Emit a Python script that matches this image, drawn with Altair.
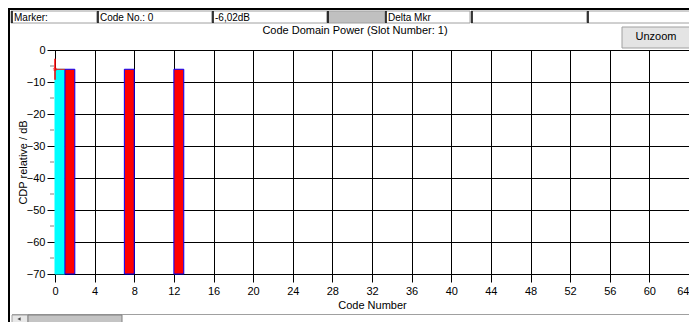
import altair as alt
import pandas as pd

# ---- data ----
codes = [0, 1, 7, 12]
cdp_db = [-6.02, -6.02, -6.02, -6.02]
states = ["marker", "active", "active", "active"]
floor_db = -70

marker_code = 0
marker_db = -6.02

x_ticks = list(range(0, 65, 4))
y_ticks = [0, -10, -20, -30, -40, -50, -60, -70]
y_minor = [-5, -15, -25, -35, -45, -55, -65]

header_labels = ["Marker:", "Code No.: 0", "-6,02dB", "", "Delta Mkr", "", ""]
header_left = [-44, 42, 157, 272, 330, 416, 532]
header_right = [42, 157, 272, 330, 415, 532, 642]
header_fill = ["white", "white", "white", "#c0c0c0", "white", "white", "white"]

title_text = "Code Domain Power (Slot Number:  1)"
x_title = "Code Number"
y_title = "CDP relative / dB"

FONT = "Liberation Sans, Arial, sans-serif"

bars = pd.DataFrame({"code": codes, "cdp": cdp_db, "state": states})
bars["floor"] = floor_db

W, H = 634, 224

x_scale = alt.Scale(domain=[0, 64], nice=False, zero=False)
y_scale = alt.Scale(domain=[-70, 0], nice=False)

base = alt.Chart(bars)

bar_layer = base.transform_calculate(code_end="datum.code + 1").mark_rect(strokeWidth=1).encode(
    x=alt.X("code:Q", scale=x_scale,
            axis=alt.Axis(values=x_ticks, tickCount=100, format="d", grid=True,
                          gridColor="black", gridOpacity=1, domainColor="black",
                          tickColor="black", tickSize=8,
                          labelOverlap=False, labelFlush=False,
                          labelAlign={"condition": {"test": "datum.value == 64", "value": "right"},
                                      "value": "center"},
                          labelFont=FONT, labelFontSize=11, labelColor="black",
                          labelPadding=3, title=x_title, titleFont=FONT,
                          titleFontSize=11, titleFontWeight="normal", titleColor="black",
                          titlePadding=3)),
    x2="code_end:Q",
    y=alt.Y("cdp:Q", scale=y_scale,
            axis=alt.Axis(values=y_ticks, tickCount=100, format="d", grid=True,
                          gridColor="black", gridOpacity=1, domainColor="black",
                          tickColor="black", tickSize=8,
                          labelOverlap=False, labelFlush=False,
                          labelFont=FONT, labelFontSize=11, labelColor="black",
                          labelPadding=2, title=y_title, titleFont=FONT,
                          titleFontSize=11, titleFontWeight="normal", titleColor="black",
                          titlePadding=-2)),
    y2="floor:Q",
    fill=alt.Color("state:N", scale=alt.Scale(domain=["marker", "active"],
                                              range=["#00ffff", "#ff0000"]), legend=None),
    stroke=alt.Stroke("state:N", scale=alt.Scale(domain=["marker", "active"],
                                                 range=["#00ffff", "#0000ff"]), legend=None),
)

minor = alt.Chart(pd.DataFrame({"y": y_minor})).mark_rule(color="#808080").encode(
    y=alt.Y("y:Q", scale=y_scale), x=alt.value(-5), x2=alt.value(-1))

mk = pd.DataFrame({"code": [marker_code], "db": [marker_db]})
mk["code_end"] = mk["code"] + 1
mk["top"] = mk["db"] + 3.3
mk["bot"] = mk["db"] - 3.3
marker_v = alt.Chart(mk).mark_rule(color="red", strokeWidth=1.5).encode(
    x=alt.X("code:Q", scale=x_scale), y=alt.Y("top:Q", scale=y_scale), y2="bot:Q")
marker_h = alt.Chart(mk).mark_rule(color="red", strokeWidth=1).encode(
    x=alt.X("code:Q", scale=x_scale), x2="code_end:Q", y=alt.Y("db:Q", scale=y_scale))
marker_x = alt.Chart(mk).mark_point(shape="cross", color="red", size=10, angle=45,
                                    strokeWidth=0.8).encode(
    x=alt.X("code:Q", scale=x_scale), y=alt.Y("db:Q", scale=y_scale))

# ---- window chrome (header fields, title, button, scrollbar) ----
hdr = pd.DataFrame({"label": header_labels, "l": header_left, "r": header_right,
                    "fill": header_fill})
layers_chrome = []
for _, row in hdr.iterrows():
    layers_chrome.append(
        alt.Chart(pd.DataFrame({"t": [row["label"]]})).mark_rect(
            fill=row["fill"], stroke="#a0a0a0", strokeWidth=1).encode(
            x=alt.value(row["l"]), x2=alt.value(row["r"]), y=alt.value(-39), y2=alt.value(-27)))
    layers_chrome.append(
        alt.Chart(pd.DataFrame({"t": [row["label"]]})).mark_rule(color="black", strokeWidth=1.5).encode(
            x=alt.value(row["l"] + 1), y=alt.value(-39), y2=alt.value(-27)))
    if row["label"]:
        layers_chrome.append(
            alt.Chart(pd.DataFrame({"t": [row["label"]]})).mark_text(
                align="left", baseline="middle", font=FONT, fontSize=10, color="black").encode(
                text="t:N", x=alt.value(row["l"] + 3), y=alt.value(-32.5)))

frame_top = alt.Chart(pd.DataFrame({"a": [1]})).mark_rule(color="black", strokeWidth=2).encode(
    x=alt.value(-47), x2=alt.value(642), y=alt.value(-41))
frame_left = alt.Chart(pd.DataFrame({"a": [1]})).mark_rule(color="black", strokeWidth=2).encode(
    x=alt.value(-46), y=alt.value(-42), y2=alt.value(280))

title = alt.Chart(pd.DataFrame({"t": [title_text]})).mark_text(
    align="center", baseline="middle", font=FONT, fontSize=11, color="black").encode(
    text="t:N", x=alt.value(300), y=alt.value(-19))

btn = alt.Chart(pd.DataFrame({"t": ["Unzoom"]})).mark_rect(
    fill="#e4e4e4", stroke="#a0a0a0", strokeWidth=1).encode(
    x=alt.value(567), x2=alt.value(645), y=alt.value(-23), y2=alt.value(-2))
btn_txt = alt.Chart(pd.DataFrame({"t": ["Unzoom"]})).mark_text(
    align="center", baseline="middle", font=FONT, fontSize=11, color="black").encode(
    text="t:N", x=alt.value(601), y=alt.value(-13))

sb_line = alt.Chart(pd.DataFrame({"a": [1]})).mark_rule(color="#a0a0a0", strokeWidth=1).encode(
    x=alt.value(-43), x2=alt.value(645), y=alt.value(264.5))
sb_btn = alt.Chart(pd.DataFrame({"a": [1]})).mark_rect(
    fill="#e8e8e8", stroke="#a0a0a0", strokeWidth=1).encode(
    x=alt.value(-43), x2=alt.value(-27), y=alt.value(265), y2=alt.value(280))
sb_thumb = alt.Chart(pd.DataFrame({"a": [1]})).mark_rect(
    fill="#c4c4c4", stroke="#808080", strokeWidth=1).encode(
    x=alt.value(-27), x2=alt.value(67), y=alt.value(265), y2=alt.value(280))
sb_left = alt.Chart(pd.DataFrame({"a": [1]})).mark_point(
    shape="triangle-left", filled=True, color="black", size=14).encode(
    x=alt.value(-36), y=alt.value(269))

chart = alt.layer(
    bar_layer, minor, marker_h, marker_v, marker_x,
    frame_top, frame_left, *layers_chrome, title, btn, btn_txt,
    sb_line, sb_btn, sb_thumb, sb_left,
).properties(
    width=W, height=H,
    padding={"left": 47, "top": 42, "right": 0, "bottom": 48},
    autosize=alt.AutoSizeParams(type="none"),
    background="white",
).configure_view(stroke="black", strokeWidth=1)

chart.save("out.html", embed_options={"renderer": "svg", "actions": False})
